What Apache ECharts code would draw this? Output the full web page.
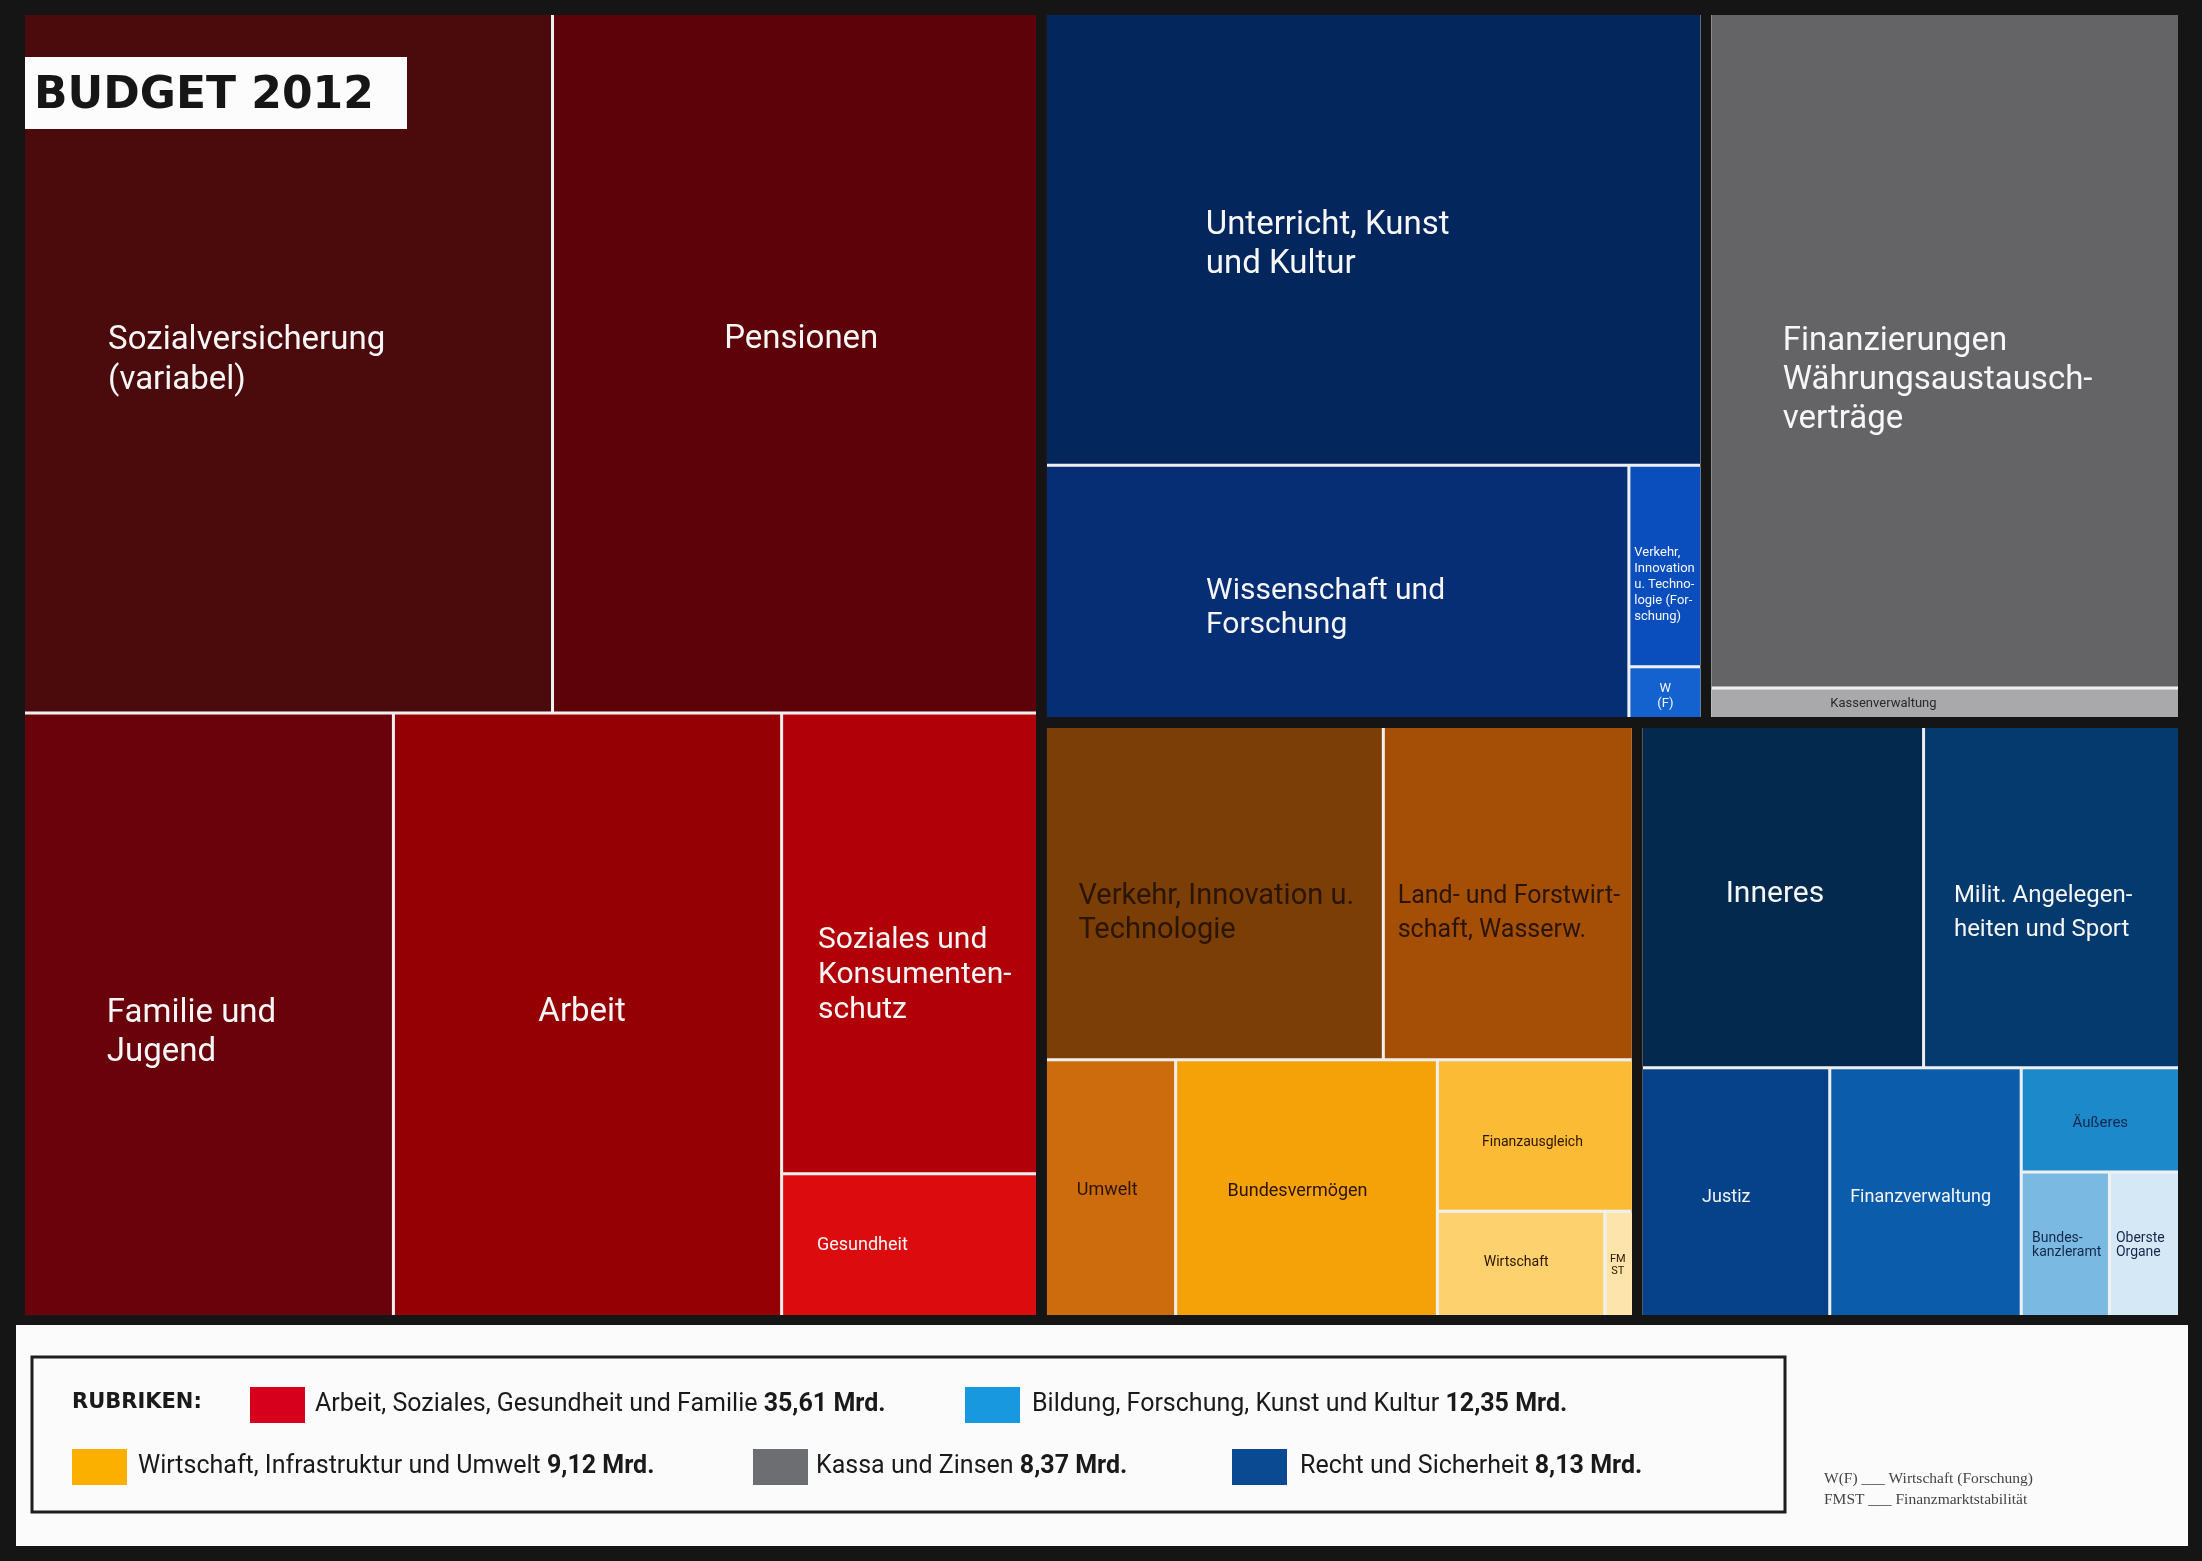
<!DOCTYPE html>
<html>
<head>
<meta charset="utf-8">
<script src="https://cdn.jsdelivr.net/npm/echarts@6/dist/echarts.min.js"></script>
<style>
html,body{margin:0;padding:0;background:#151515;}
#chart{width:2202px;height:1561px;}
</style>
</head>
<body>
<div id="chart"></div>
<script>
// ---------------- data ----------------
const groupNames = [
  'Arbeit, Soziales, Gesundheit und Familie',
  'Bildung, Forschung, Kunst und Kultur',
  'Kassa und Zinsen',
  'Wirtschaft, Infrastruktur und Umwelt',
  'Recht und Sicherheit'
];
const groupTotals = [35.61, 12.35, 8.37, 9.12, 8.13];

const socialNames = ['Sozialversicherung (variabel)', 'Pensionen', 'Familie und Jugend', 'Arbeit', 'Soziales und Konsumentenschutz', 'Gesundheit'];
const socialValues = [9.73, 8.92, 5.87, 6.16, 3.10, 0.96];

const educationNames = ['Unterricht, Kunst und Kultur', 'Wissenschaft und Forschung', 'Verkehr, Innovation u. Technologie (Forschung)', 'W(F)'];
const educationValues = [7.87, 3.92, 0.39, 0.10];

const treasuryNames = ['Finanzierungen Währungsaustauschverträge', 'Kassenverwaltung'];
const treasuryValues = [8.45, 0.38];

const economyNames = ['Verkehr, Innovation u. Technologie', 'Land- und Forstwirtschaft, Wasserw.', 'Umwelt', 'Bundesvermögen', 'Finanzausgleich', 'Wirtschaft', 'FMST'];
const economyValues = [3.00, 2.22, 0.89, 1.79, 0.79, 0.47, 0.08];

const lawNames = ['Inneres', 'Milit. Angelegenheiten und Sport', 'Justiz', 'Finanzverwaltung', 'Äußeres', 'Bundeskanzleramt', 'Oberste Organe'];
const lawValues = [2.57, 2.33, 1.25, 1.27, 0.44, 0.34, 0.27];

const footnotes = ['W(F) ___ Wirtschaft (Forschung)', 'FMST ___ Finanzmarktstabilität'];

// ---------------- styles ----------------
const leafColors = {
  'Sozialversicherung (variabel)': '#4b0a0c', 'Pensionen': '#5d0208', 'Familie und Jugend': '#6a020c',
  'Arbeit': '#950005', 'Soziales und Konsumentenschutz': '#b10008', 'Gesundheit': '#dc0c0e',
  'Unterricht, Kunst und Kultur': '#03265c', 'Wissenschaft und Forschung': '#052e74',
  'Verkehr, Innovation u. Technologie (Forschung)': '#0a4ebe', 'W(F)': '#1462cf',
  'Finanzierungen Währungsaustauschverträge': '#646466', 'Kassenverwaltung': '#a9a9ab',
  'Verkehr, Innovation u. Technologie': '#7a3e06', 'Land- und Forstwirtschaft, Wasserw.': '#a44e06',
  'Umwelt': '#cd6c0c', 'Bundesvermögen': '#f5a208', 'Finanzausgleich': '#fbbb34',
  'Wirtschaft': '#fdd26e', 'FMST': '#fde4aa',
  'Inneres': '#032a4e', 'Milit. Angelegenheiten und Sport': '#043a6e', 'Justiz': '#06428a',
  'Finanzverwaltung': '#0c5cac', 'Äußeres': '#1c8aca', 'Bundeskanzleramt': '#7abae2', 'Oberste Organe': '#d4e8f6'
};
const displayText = {
  'Sozialversicherung (variabel)': 'Sozialversicherung\n(variabel)',
  'Familie und Jugend': 'Familie und\nJugend',
  'Soziales und Konsumentenschutz': 'Soziales und\nKonsumenten-\nschutz',
  'Unterricht, Kunst und Kultur': 'Unterricht, Kunst\nund Kultur',
  'Wissenschaft und Forschung': 'Wissenschaft und\nForschung',
  'Verkehr, Innovation u. Technologie (Forschung)': 'Verkehr,\nInnovation\nu. Techno-\nlogie (For-\nschung)',
  'W(F)': 'W\n(F)',
  'Finanzierungen Währungsaustauschverträge': 'Finanzierungen\nWährungsaustausch-\nverträge',
  'Verkehr, Innovation u. Technologie': 'Verkehr, Innovation u.\nTechnologie',
  'Land- und Forstwirtschaft, Wasserw.': 'Land- und Forstwirt-\nschaft, Wasserw.',
  'FMST': 'FM\nST',
  'Milit. Angelegenheiten und Sport': 'Milit. Angelegen-\nheiten und Sport',
  'Bundeskanzleramt': 'Bundes-\nkanzleramt',
  'Oberste Organe': 'Oberste\nOrgane'
};
const W = '#f6f6f6', DARK = '#2a1500', NAVY = '#15284c';
// [x, y, align, fontSize, lineHeight, color]
const labelStyles = {
  'Sozialversicherung (variabel)': ['15.8%', '49.6%', 'left', 33, 40, W],
  'Pensionen': ['51.3%', '46.6%', 'center', 33, 40, W],
  'Familie und Jugend': ['22.3%', '53%', 'left', 33, 39, W],
  'Arbeit': ['48.6%', '49.7%', 'center', 33, 39, W],
  'Soziales und Konsumentenschutz': ['13.8%', '57.1%', 'left', 30, 35, W],
  'Gesundheit': ['13.4%', '50.5%', 'left', 18, 20, W],
  'Unterricht, Kunst und Kultur': ['24.3%', '51.2%', 'left', 33, 39, W],
  'Wissenschaft und Forschung': ['27.4%', '56.6%', 'left', 30, 34, W],
  'Verkehr, Innovation u. Technologie (Forschung)': ['5.5%', '59.5%', 'left', 13, 16, W],
  'W(F)': ['50%', '57%', 'center', 13, 15, W],
  'Finanzierungen Währungsaustauschverträge': ['15.3%', '54.4%', 'left', 33, 39, W],
  'Kassenverwaltung': ['25.5%', '52%', 'left', 13, 15, '#2a2a2a'],
  'Verkehr, Innovation u. Technologie': ['9.4%', '56.2%', 'left', 29, 34, DARK],
  'Land- und Forstwirtschaft, Wasserw.': ['5.2%', '56.2%', 'left', 25, 34, DARK],
  'Umwelt': ['23.4%', '50.8%', 'left', 18, 20, DARK],
  'Bundesvermögen': ['19.5%', '51.2%', 'left', 18, 20, DARK],
  'Finanzausgleich': ['48.5%', '55%', 'center', 14, 16, DARK],
  'Wirtschaft': ['47%', '49%', 'center', 14, 16, DARK],
  'FMST': ['45%', '51%', 'center', 11, 12, DARK],
  'Inneres': ['47.3%', '49.3%', 'center', 30, 34, W],
  'Milit. Angelegenheiten und Sport': ['11.4%', '54.8%', 'left', 24, 34, W],
  'Justiz': ['45%', '52%', 'center', 18, 20, W],
  'Finanzverwaltung': ['47.4%', '52%', 'center', 18, 20, W],
  'Äußeres': ['50%', '53%', 'center', 15, 16, NAVY],
  'Bundeskanzleramt': ['11%', '51%', 'left', 14, 14, NAVY],
  'Oberste Organe': ['7.4%', '51%', 'left', 14, 14, NAVY]
};
const legendSwatch = ['#d6001c', '#1898df', '#6d6e72', '#fbb000', '#0a4a92'];

// ---------------- build tree ----------------
function leaves(names, values) {
  return names.map((n, i) => {
    const s = labelStyles[n];
    return {
      name: n,
      value: values[i],
      itemStyle: { color: leafColors[n] },
      label: {
        position: [s[0], s[1]], align: s[2], verticalAlign: 'middle',
        fontSize: s[3], lineHeight: s[4], color: s[5],
        formatter: () => displayText[n] || n
      }
    };
  });
}
const treeData = [
  { name: groupNames[0], children: leaves(socialNames, socialValues) },
  { name: groupNames[1], children: leaves(educationNames, educationValues) },
  { name: groupNames[2], children: leaves(treasuryNames, treasuryValues) },
  { name: groupNames[3], children: leaves(economyNames, economyValues) },
  { name: groupNames[4], children: leaves(lawNames, lawValues) }
];

// ---------------- legend graphics ----------------
const fmt = v => v.toFixed(2).replace('.', ',') + ' Mrd.';
const legendOrder = [0, 1, 3, 2, 4];
const legendPos = [[250, 315, 1405], [965, 1032, 1405], [72, 138, 1467], [753, 816, 1467], [1232, 1300, 1467]];
const graphics = [
  { type: 'rect', z: 100, shape: { x: 16, y: 1325, width: 2172, height: 221 }, style: { fill: '#fbfbfb' } },
  { type: 'rect', z: 101, shape: { x: 32, y: 1357, width: 1753, height: 155 }, style: { fill: null, stroke: '#1e1e1e', lineWidth: 3 } },
  { type: 'text', z: 102, x: 72, y: 1403, style: { text: 'RUBRIKEN:', fill: '#1a1a1a', fontFamily: 'DejaVu Sans', fontWeight: 'bold', fontSize: 21, verticalAlign: 'middle' } },
  { type: 'rect', z: 100, shape: { x: 25, y: 57, width: 382, height: 72 }, style: { fill: '#fcfcfc' } },
  { type: 'text', z: 101, x: 34, y: 97, style: { text: 'BUDGET 2012', fill: '#161616', fontFamily: 'DejaVu Sans', fontWeight: 'bold', fontSize: 44, verticalAlign: 'middle' } }
];
legendOrder.forEach((gi, k) => {
  const p = legendPos[k];
  graphics.push({ type: 'rect', z: 102, shape: { x: p[0], y: p[2] - 18, width: 55, height: 36 }, style: { fill: legendSwatch[gi] } });
  graphics.push({
    type: 'text', z: 102, x: p[1], y: p[2],
    style: {
      text: '{n|' + groupNames[gi] + ' }{b|' + fmt(groupTotals[gi]) + '}',
      verticalAlign: 'middle',
      rich: {
        n: { fontFamily: 'Roboto', fontSize: 25, fill: '#1a1a1a' },
        b: { fontFamily: 'Roboto', fontSize: 25, fontWeight: 'bold', fill: '#1a1a1a' }
      }
    }
  });
});
footnotes.forEach((t, i) => {
  graphics.push({ type: 'text', z: 102, x: 1824, y: 1479 + i * 21, style: { text: t, fill: '#444', fontFamily: 'Liberation Serif', fontSize: 15.5, verticalAlign: 'middle' } });
});

// ---------------- chart ----------------
const chart = echarts.init(document.getElementById('chart'), null, { renderer: 'canvas' });
chart.setOption({
  backgroundColor: '#151515',
  animation: false,
  textStyle: { fontFamily: 'Roboto' },
  graphic: { elements: graphics },
  series: [{
    type: 'treemap',
    left: 25, top: 15, width: 2153, height: 1300,
    roam: false, nodeClick: false, silent: true,
    breadcrumb: { show: false },
    sort: false,
    squareRatio: 1,
    visibleMin: 0,
    label: { show: true, padding: 0, overflow: 'none', fontFamily: 'Roboto', color: W },
    upperLabel: { show: false },
    levels: [
      { itemStyle: { borderWidth: 0, gapWidth: 11, borderColor: '#151515' } },
      { itemStyle: { borderWidth: 0, gapWidth: 3, borderColor: '#efefef' } },
      { itemStyle: { borderWidth: 0, gapWidth: 0 } }
    ],
    data: treeData
  }]
});
</script>
</body>
</html>
